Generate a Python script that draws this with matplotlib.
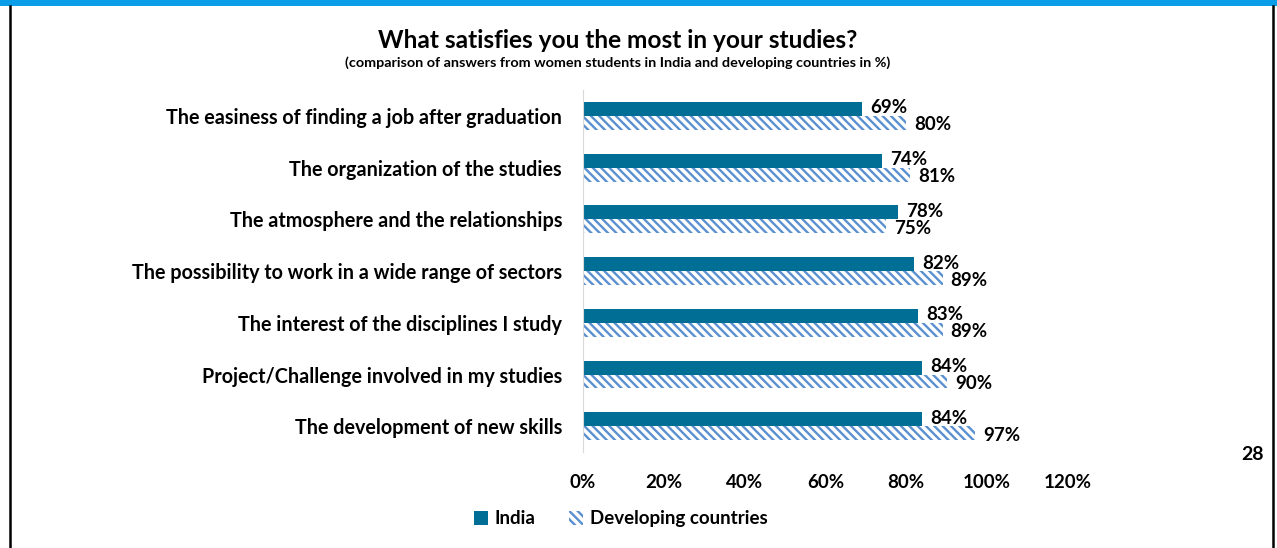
import matplotlib.pyplot as plt
import numpy as np
from matplotlib.lines import Line2D
from matplotlib.patches import Rectangle
from matplotlib.ticker import FuncFormatter

FONT = "Lato"
COLOR_INDIA = "#006E95"
COLOR_DEV = "#5A8FD0"
BAR_H = 0.27

categories = [
    "The easiness of finding a job after graduation",
    "The organization of the studies",
    "The atmosphere and the relationships",
    "The possibility to work in a wide range of sectors",
    "The interest of the disciplines I study",
    "Project/Challenge involved in my studies",
    "The development of new skills",
]
india = [69, 74, 78, 82, 83, 84, 84]
developing = [80, 81, 75, 89, 89, 90, 97]
x_ticks = [0, 20, 40, 60, 80, 100, 120]

plt.rcParams["font.family"] = FONT
plt.rcParams["font.weight"] = "bold"
plt.rcParams["hatch.linewidth"] = 1.7

fig = plt.figure(figsize=(12.77, 5.48), dpi=100)
ax = fig.add_axes([0.4565, 0.175, 0.3798, 0.6606])

y = np.arange(len(categories))
b1 = ax.barh(y - BAR_H / 2, india, BAR_H, color=COLOR_INDIA, label="India")
b2 = ax.barh(y + BAR_H / 2, developing, BAR_H, color="white",
             edgecolor=COLOR_DEV, linewidth=0, hatch="\\\\\\\\",
             label="Developing countries")

for bars, vals, dy in ((b1, india, -0.02), (b2, developing, 0.04)):
    for rect, v in zip(bars, vals):
        ax.text(v + 2.0, rect.get_y() + rect.get_height() / 2 + dy, f"{v}%",
                ha="left", va="center", fontsize=13.5, fontweight="bold")

ax.set_xlim(0, 120)
ax.set_ylim(len(categories) - 0.5, -0.5)
ax.set_xticks(x_ticks)
ax.xaxis.set_major_formatter(FuncFormatter(lambda v, _: f"{v:.0f}%"))
ax.set_yticks(y)
ax.set_yticklabels(categories)
ax.tick_params(axis="x", length=0, pad=16, labelsize=13.5)
ax.tick_params(axis="y", length=0, pad=15, labelsize=14.2)
for s in ("top", "right", "bottom"):
    ax.spines[s].set_visible(False)
ax.spines["left"].set_color("#D9D9D9")

fig.text(0.484, 0.927, "What satisfies you the most in your studies?",
         ha="center", va="center", fontsize=17.6, fontweight="bold")
fig.text(0.484, 0.886,
         "(comparison of answers from women students in India and developing countries in %)",
         ha="center", va="center", fontsize=10.4, fontweight="bold")

fig.legend(handles=[b1, b2], loc="center", bbox_to_anchor=(0.486, 0.053),
           ncol=2, frameon=False, fontsize=13.5, handlelength=0.75,
           handleheight=0.75, columnspacing=1.8, handletextpad=0.35)

fig.text(0.981, 0.17, "28", ha="center", va="center", fontsize=14,
         fontweight="bold")

# slide frame: blue band on top, dark side rules
fig.add_artist(Rectangle((0, 0.989), 1, 0.011, transform=fig.transFigure,
                         color="#0A9DE8", lw=0))
fig.add_artist(Line2D([0.0075, 0.0075], [0, 0.989], transform=fig.transFigure,
                      color="black", lw=1.8))
fig.add_artist(Line2D([0.9965, 0.9965], [0, 0.989], transform=fig.transFigure,
                      color="black", lw=1.8))

fig.savefig("out.png", dpi=100)
